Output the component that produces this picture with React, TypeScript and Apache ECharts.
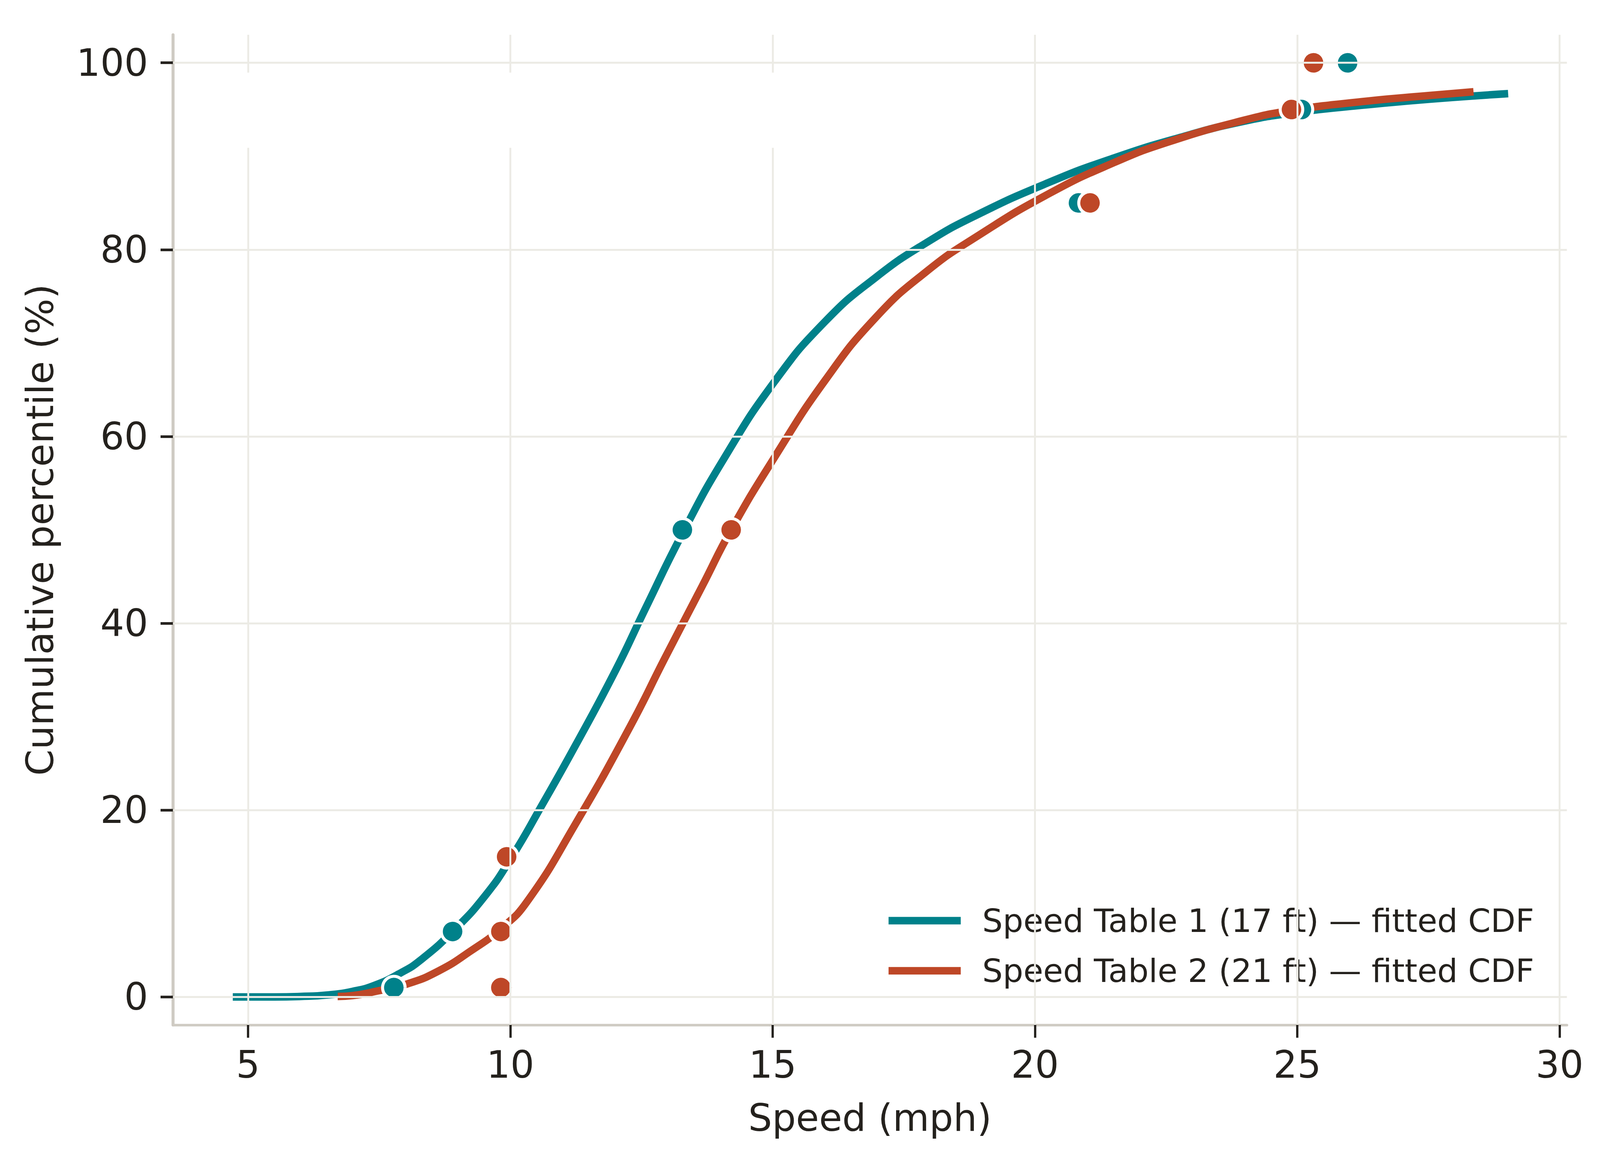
import React, { useEffect, useRef } from "react";
import * as echarts from "echarts";

// ---- data ----
const seriesNames = [
  "Speed Table 1 (17 ft) — fitted CDF",
  "Speed Table 2 (21 ft) — fitted CDF",
];

// fitted CDF curves (speed mph, cumulative %)
const tealCurveX = [4.71, 5.5, 6.0, 6.5, 7.0, 7.44, 7.92, 8.28, 8.9, 9.53, 10.03, 10.58, 11.24, 12.01, 12.56, 13.28, 14.07, 15.04, 16.0, 16.96, 17.92, 18.89, 20.27, 21.5, 22.76, 23.95, 25.0, 26.33, 27.52, 29.02];
const tealCurveY = [0, 0, 0.05, 0.2, 0.6, 1.3, 2.6, 3.9, 7.0, 10.9, 15.0, 20.3, 26.9, 35.0, 41.4, 49.6, 57.6, 65.9, 72.3, 77.0, 80.7, 83.7, 87.2, 89.8, 92.0, 93.7, 94.7, 95.5, 96.1, 96.7];

const orangeCurveX = [6.71, 7.0, 7.44, 8.04, 8.64, 9.24, 9.82, 10.32, 11.24, 12.28, 12.94, 13.66, 14.21, 15.04, 16.0, 16.96, 17.92, 18.89, 20.27, 21.5, 22.53, 23.95, 24.89, 26.33, 27.52, 28.36];
const orangeCurveY = [0.05, 0.15, 0.6, 1.4, 2.8, 4.9, 7.3, 10.2, 18.5, 28.9, 36.2, 44.0, 50.0, 57.8, 66.0, 72.7, 77.6, 81.4, 86.0, 89.3, 91.5, 93.8, 94.9, 95.9, 96.5, 96.9];

// observed percentile points
const tealPointX = [7.78, 8.9, 13.28, 20.83, 25.08, 25.96];
const tealPointY = [1, 7, 50, 85, 95, 100];
const orangePointX = [9.82, 9.82, 9.93, 14.21, 21.05, 24.89, 25.31];
const orangePointY = [1, 7, 15, 50, 85, 95, 100];

// axes
const xTicks = [5, 10, 15, 20, 25, 30];
const yTicks = [0, 20, 40, 60, 80, 100];
const xMin = 3.57;
const xMax = 30.14;
const yMin = -3;
const yMax = 103;
// band where the x=5,10,15 grid lines are interrupted in the reference
const gapLow = 90.9;
const gapHigh = 98.95;
const gappedXTicks = [5, 10, 15];

const TEAL = "#00818A";
const ORANGE = "#BE4727";
const GRID = "#ECEBE5";
const SPINE = "#CFCBC3";
const TEXT = "#24211D";
const FONT = "DejaVu Sans";

const REF_W = 4255;
const REF_H = 2984;

const pairs = (xs: number[], ys: number[]) => xs.map((x, i) => [x, ys[i]]);

export default function App() {
  const ref = useRef<HTMLDivElement>(null);

  useEffect(() => {
    if (!ref.current) return;
    const el = ref.current;
    const sx = el.clientWidth / REF_W;
    const sy = el.clientHeight / REF_H;
    const s = Math.min(sx, sy);
    const chart = echarts.init(el, undefined, { renderer: "svg" });

    const gridLines: any[] = [];
    xTicks.forEach((x) => {
      if (gappedXTicks.includes(x)) {
        gridLines.push([{ coord: [x, yMin] }, { coord: [x, gapLow] }]);
        gridLines.push([{ coord: [x, gapHigh] }, { coord: [x, yMax] }]);
      } else {
        gridLines.push([{ coord: [x, yMin] }, { coord: [x, yMax] }]);
      }
    });
    yTicks.forEach((y) => {
      gridLines.push([{ coord: [xMin, y] }, { coord: [xMax, y] }]);
    });

    const option: any = {
      animation: false,
      backgroundColor: "#ffffff",
      textStyle: { fontFamily: FONT },
      grid: { left: 460 * sx, right: 88 * sx, top: 89 * sy, bottom: 361 * sy, containLabel: false },
      legend: {
        data: seriesNames,
        orient: "vertical",
        left: 2353 * sx,
        top: 2308 * sy,
        padding: 0,
        itemWidth: 192 * sx,
        itemHeight: 20 * s,
        itemGap: 32 * sy,
        selectedMode: false,
        lineStyle: { width: 20 * s },
        textStyle: {
          fontFamily: FONT,
          fontSize: 86 * s,
          color: TEXT,
          lineHeight: 100 * s,
          padding: [0, 0, 0, 52 * sx],
        },
      },
      xAxis: {
        type: "value",
        min: xMin,
        max: xMax,
        name: "Speed (mph)",
        nameLocation: "middle",
        nameGap: 190 * sy,
        nameTextStyle: { fontFamily: FONT, fontSize: 100 * s, color: TEXT, lineHeight: 100 * s },
        axisLine: { show: true, onZero: false, lineStyle: { color: SPINE, width: 7 * s } },
        axisTick: { show: true, length: 34 * s, customValues: xTicks, lineStyle: { color: TEXT, width: 6 * s } },
        axisLabel: {
          show: true,
          customValues: xTicks,
          margin: 54 * sy,
          fontFamily: FONT,
          fontSize: 100 * s,
          lineHeight: 100 * s,
          color: TEXT,
        },
        splitLine: { show: false },
      },
      yAxis: {
        type: "value",
        min: yMin,
        max: yMax,
        name: "Cumulative percentile (%)",
        nameLocation: "middle",
        nameGap: 303 * sx,
        nameRotate: 90,
        nameTextStyle: { fontFamily: FONT, fontSize: 100 * s, color: TEXT, lineHeight: 100 * s },
        axisLine: { show: true, lineStyle: { color: SPINE, width: 8 * s } },
        axisTick: { show: true, length: 33 * s, customValues: yTicks, lineStyle: { color: TEXT, width: 7 * s } },
        axisLabel: {
          show: true,
          customValues: yTicks,
          margin: 66 * sx,
          fontFamily: FONT,
          fontSize: 100 * s,
          lineHeight: 100 * s,
          color: TEXT,
        },
        splitLine: { show: false },
      },
      series: [
        {
          name: "gridlines",
          type: "line",
          data: [],
          z: 1,
          silent: true,
          markLine: {
            silent: true,
            symbol: ["none", "none"],
            label: { show: false },
            lineStyle: { color: GRID, width: 5 * s, type: "solid" },
            emphasis: { disabled: true },
            data: gridLines,
          },
        },
        {
          name: seriesNames[0],
          type: "line",
          data: pairs(tealCurveX, tealCurveY),
          showSymbol: false,
          symbol: "none",
          smooth: 0.5,
          lineStyle: { color: TEAL, width: 20 * s, cap: "butt" },
          itemStyle: { color: TEAL },
          z: 2,
        },
        {
          name: seriesNames[1],
          type: "line",
          data: pairs(orangeCurveX, orangeCurveY),
          showSymbol: false,
          symbol: "none",
          smooth: 0.5,
          lineStyle: { color: ORANGE, width: 20 * s, cap: "butt" },
          itemStyle: { color: ORANGE },
          z: 2,
        },
        {
          name: "Speed Table 1 observed",
          type: "scatter",
          data: pairs(tealPointX, tealPointY),
          symbol: "circle",
          symbolSize: 60 * s,
          itemStyle: { color: TEAL, borderColor: "#ffffff", borderWidth: 8 * s, opacity: 1 },
          z: 3,
        },
        {
          name: "Speed Table 2 observed",
          type: "scatter",
          data: pairs(orangePointX, orangePointY),
          symbol: "circle",
          symbolSize: 60 * s,
          itemStyle: { color: ORANGE, borderColor: "#ffffff", borderWidth: 8 * s, opacity: 1 },
          z: 3,
        },
      ],
    };

    chart.setOption(option);
    return () => chart.dispose();
  }, []);

  return (
    <div
      ref={ref}
      style={{ position: "fixed", left: 0, top: 0, width: "100vw", height: "100vh", background: "#ffffff" }}
    />
  );
}
